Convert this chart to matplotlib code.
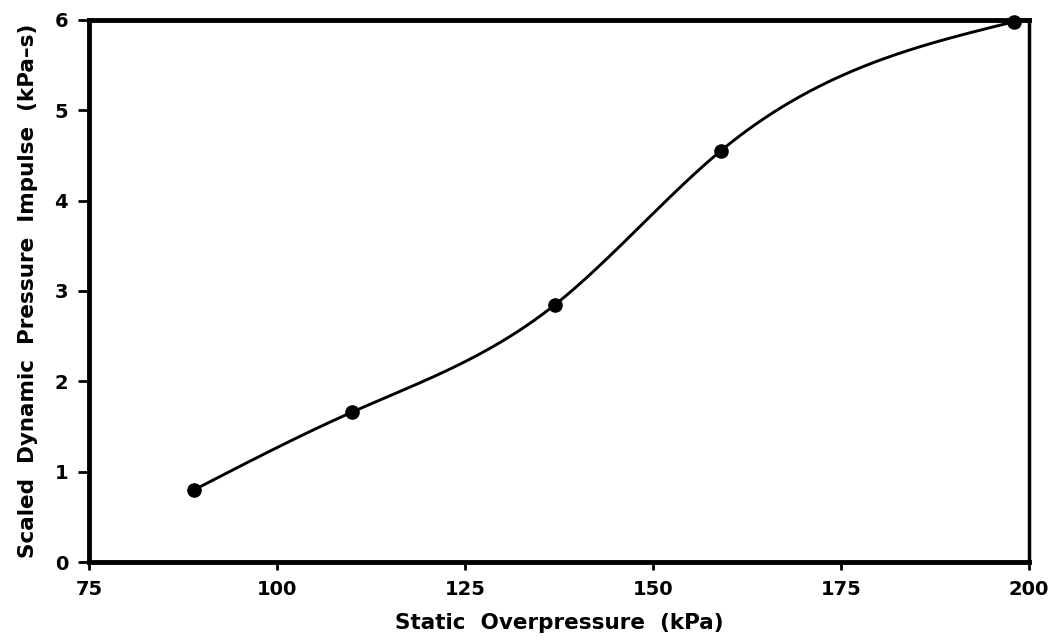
import numpy as np
import matplotlib
matplotlib.use('Agg')
import matplotlib.pyplot as plt

# data
overpressure = [89, 110, 137, 159, 198]
impulse = [0.80, 1.66, 2.85, 4.55, 5.98]

x_ticks = [75, 100, 125, 150, 175, 200]
y_ticks = [0, 1, 2, 3, 4, 5, 6]


def natural_spline(xs, ys, n=400):
    # smooth curve through the points (natural cubic spline)
    xs = np.asarray(xs, float)
    ys = np.asarray(ys, float)
    k = len(xs)
    h = np.diff(xs)
    A = np.zeros((k, k))
    r = np.zeros(k)
    A[0, 0] = A[-1, -1] = 1
    for i in range(1, k - 1):
        A[i, i - 1] = h[i - 1]
        A[i, i] = 2 * (h[i - 1] + h[i])
        A[i, i + 1] = h[i]
        r[i] = 6 * ((ys[i + 1] - ys[i]) / h[i] - (ys[i] - ys[i - 1]) / h[i - 1])
    m = np.linalg.solve(A, r)
    xx = np.linspace(xs[0], xs[-1], n)
    idx = np.clip(np.searchsorted(xs, xx) - 1, 0, k - 2)
    x0, x1 = xs[idx], xs[idx + 1]
    hh = x1 - x0
    a = (x1 - xx) / hh
    b = (xx - x0) / hh
    yy = (a * ys[idx] + b * ys[idx + 1]
          + ((a ** 3 - a) * m[idx] + (b ** 3 - b) * m[idx + 1]) * hh ** 2 / 6)
    return xx, yy


plt.rcParams['font.family'] = ['DejaVu Sans']
plt.rcParams['font.weight'] = 'bold'

fig = plt.figure(figsize=(10.51, 6.44), dpi=100)
ax = fig.add_axes([0.0847, 0.1273, 0.8943, 0.8417])

cx, cy = natural_spline(overpressure, impulse)
ax.plot(cx, cy, color='black', lw=2.1, zorder=3)
ax.plot(overpressure, impulse, 'o', color='black', ms=9.5, zorder=4, clip_on=False)

ax.set_xlim(75, 200)
ax.set_ylim(0, 6)
ax.set_xticks(x_ticks)
ax.set_yticks(y_ticks)

for side in ['left', 'bottom', 'top']:
    ax.spines[side].set_linewidth(3.5)
ax.spines['right'].set_linewidth(2.5)

ax.tick_params(axis='x', direction='out', length=6, width=2, pad=7, labelsize=14)
ax.tick_params(axis='y', direction='out', length=8, width=2, pad=7, labelsize=14)

ax.set_xlabel('Static  Overpressure  (kPa)', fontsize=15.5, fontweight='bold', labelpad=10)
ax.set_ylabel('Scaled  Dynamic  Pressure  Impulse  (kPa–s)', fontsize=15.5,
              fontweight='bold', labelpad=12)

fig.savefig('out.png', dpi=100)
